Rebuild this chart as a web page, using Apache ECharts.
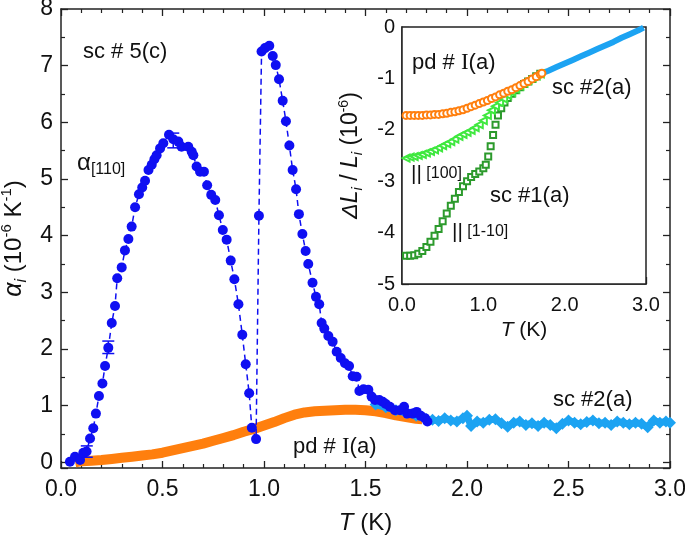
<!DOCTYPE html>
<html><head><meta charset="utf-8">
<script src="https://cdn.jsdelivr.net/npm/echarts@6/dist/echarts.min.js"></script>
<style>html,body{margin:0;padding:0;background:#fff}#c{width:685px;height:536px}</style>
</head><body><div id="c"></div>
<script>
// ---- main panel data: alpha_[110] (sc #5(c)) ----
const blueT = [0.044,0.069,0.094,0.11,0.126,0.143,0.159,0.172,0.187,0.204,0.217,0.233,0.25,0.266,0.277,0.299,0.315,0.332,0.348,0.365,0.384,0.40,0.414,0.431,0.447,0.46,0.471,0.488,0.504,0.532,0.553,0.578,0.594,0.627,0.644,0.652,0.668,0.685,0.704,0.72,0.74,0.76,0.778,0.797,0.816,0.836,0.854,0.874,0.893,0.91,0.927,0.94,0.961,0.975,0.988,1.005,1.026,1.043,1.058,1.074,1.092,1.108,1.125,1.141,1.158,1.172,1.189,1.205,1.218,1.239,1.256,1.272,1.284,1.297,1.317,1.338,1.358,1.378,1.399,1.419,1.437,1.456,1.47,1.49,1.514,1.53,1.547,1.568,1.585,1.60,1.62,1.645,1.67,1.69,1.706,1.732,1.752,1.772,1.793,1.805];
const blueA = [0.01,0.10,0.04,0.17,0.19,0.42,0.60,0.86,1.17,1.39,1.70,2.02,2.46,2.76,3.25,3.44,3.74,3.94,4.16,4.50,4.73,4.85,4.97,5.16,5.25,5.35,5.42,5.54,5.63,5.78,5.70,5.66,5.57,5.57,5.48,5.42,5.22,5.13,5.13,4.89,4.72,4.63,4.36,4.10,3.93,3.56,3.23,2.79,2.25,1.73,1.22,0.61,0.41,4.35,7.25,7.31,7.35,7.17,7.01,6.76,6.38,6.02,5.59,5.16,4.82,4.38,4.03,3.73,3.50,3.17,2.92,2.79,2.46,2.36,2.23,2.13,1.95,1.84,1.75,1.70,1.52,1.51,1.26,1.29,1.28,1.16,1.10,1.10,1.07,1.03,0.98,0.92,0.92,0.98,0.86,0.86,0.89,0.82,0.78,0.72];
const errT = [0.127,0.233,0.553];
const errC = [0.19,2.03,5.68];
const errE = [0.10,0.11,0.13];
// pd # I(a)
const orangeT = [0.07,0.1,0.15,0.2,0.25,0.3,0.35,0.4,0.45,0.5,0.55,0.6,0.65,0.7,0.75,0.8,0.85,0.9,0.95,1.0,1.05,1.1,1.15,1.2,1.25,1.3,1.35,1.4,1.45,1.5,1.55,1.6,1.65,1.7,1.75,1.78];
const orangeA = [0.0,0.02,0.03,0.04,0.06,0.08,0.10,0.12,0.14,0.17,0.21,0.25,0.29,0.33,0.38,0.43,0.48,0.54,0.59,0.65,0.71,0.78,0.84,0.88,0.90,0.91,0.92,0.93,0.93,0.92,0.90,0.87,0.83,0.80,0.77,0.76];
// sc #2(a)
const cyanT = [1.55,1.6,1.65,1.7,1.75,1.8,1.83,1.86,1.89,1.92,1.95,1.98,2.0,2.02,2.05,2.08,2.11,2.14,2.17,2.2,2.23,2.26,2.29,2.32,2.35,2.38,2.41,2.44,2.47,2.5,2.53,2.56,2.59,2.62,2.65,2.68,2.71,2.74,2.77,2.8,2.83,2.86,2.89,2.92,2.95,2.98,3.0];
const cyanA = [1.02,0.97,0.92,0.87,0.82,0.76,0.75,0.73,0.78,0.74,0.72,0.78,0.82,0.64,0.72,0.70,0.75,0.76,0.69,0.63,0.70,0.72,0.66,0.69,0.64,0.70,0.66,0.60,0.68,0.74,0.70,0.67,0.71,0.74,0.69,0.70,0.66,0.72,0.70,0.67,0.70,0.68,0.62,0.74,0.70,0.72,0.70];
// ---- inset data: dL/L ----
const insOrangeT = [0.05,0.1,0.15,0.2,0.25,0.3,0.35,0.4,0.45,0.5,0.55,0.6,0.65,0.7,0.75,0.8,0.85,0.9,0.95,1.0,1.05,1.1,1.15,1.2,1.25,1.3,1.35,1.4,1.45,1.5,1.55,1.6,1.65,1.7,1.72];
const insOrangeV = [-1.72,-1.72,-1.72,-1.72,-1.72,-1.71,-1.71,-1.70,-1.70,-1.69,-1.68,-1.66,-1.65,-1.63,-1.61,-1.58,-1.55,-1.52,-1.49,-1.46,-1.43,-1.39,-1.36,-1.32,-1.29,-1.25,-1.22,-1.18,-1.14,-1.10,-1.06,-1.01,-0.97,-0.92,-0.90];
const ins100T = [0.05,0.1,0.15,0.2,0.25,0.3,0.35,0.4,0.45,0.5,0.55,0.6,0.65,0.7,0.75,0.8,0.85,0.9,0.95,1.0,1.05,1.1,1.15,1.2,1.25,1.3,1.35,1.4,1.45,1.5,1.55,1.6,1.65,1.7];
const ins100V = [-2.55,-2.53,-2.52,-2.50,-2.48,-2.45,-2.42,-2.39,-2.35,-2.31,-2.27,-2.23,-2.18,-2.13,-2.09,-2.05,-2.01,-1.96,-1.90,-1.82,-1.72,-1.62,-1.54,-1.47,-1.40,-1.33,-1.27,-1.21,-1.15,-1.09,-1.04,-0.99,-0.95,-0.91];
const ins110T = [0.05,0.1,0.15,0.2,0.25,0.3,0.35,0.4,0.45,0.5,0.55,0.6,0.65,0.7,0.75,0.8,0.85,0.9,0.95,1.0,1.03,1.06,1.09,1.12,1.15,1.18,1.22,1.26,1.3,1.35,1.4,1.45,1.5,1.55,1.6,1.65,1.7];
const ins110V = [-4.45,-4.45,-4.44,-4.41,-4.36,-4.28,-4.18,-4.06,-3.93,-3.78,-3.63,-3.48,-3.34,-3.21,-3.10,-3.00,-2.92,-2.86,-2.81,-2.75,-2.68,-2.52,-2.32,-2.10,-1.90,-1.72,-1.58,-1.47,-1.38,-1.30,-1.23,-1.17,-1.11,-1.06,-1.01,-0.96,-0.91];
const insCyanT = [1.72,1.8,1.9,2.0,2.1,2.2,2.3,2.4,2.5,2.6,2.7,2.8,2.9,2.97];
const insCyanV = [-0.90,-0.85,-0.78,-0.71,-0.64,-0.57,-0.50,-0.43,-0.36,-0.29,-0.21,-0.14,-0.07,-0.01];
// tick labels
const mainXTicks = ['0.0','0.5','1.0','1.5','2.0','2.5','3.0'];
const insetXTicks = ['0.0','1.0','2.0','3.0'];

const zip = (a,b) => a.map((v,i)=>[v,b[i]]);
const FONT = 'Liberation Sans, Arial, sans-serif';
const AX = '#222';
const BLUE = '#0f0ff2', ORANGE = '#ff7f0e', CYAN = '#1ca3f2', LGREEN = '#3fe83f', DGREEN = '#2c9a2c';

function mainAxisCommon(extra){
  return Object.assign({
    axisLine:{show:true, onZero:false, lineStyle:{color:AX, width:1.5}},
    axisTick:{show:true, inside:true, length:7, lineStyle:{color:AX, width:1.3}},
    minorTick:{show:true, length:4, lineStyle:{color:AX, width:1.2}},
    splitLine:{show:false}, minorSplitLine:{show:false}
  }, extra);
}

const chart = echarts.init(document.getElementById('c'), null, {renderer:'canvas'});
const option = {
  animation:false,
  backgroundColor:'#fff',
  grid:[
    {left:61, right:15, top:9, bottom:68, containLabel:false, outerBoundsMode:'none'},
    {left:402, top:27, width:244, height:257, show:true, backgroundColor:'#fff', borderColor:AX, borderWidth:1.5, containLabel:false, outerBoundsMode:'none', z:5}
  ],
  xAxis:[
    mainAxisCommon({gridIndex:0, type:'value', min:0, max:3, interval:0.5, position:'bottom',
      minorTick:{show:true, splitNumber:5, length:4, lineStyle:{color:AX, width:1.2}},
      axisLabel:{show:true, margin:10, color:'#111', fontSize:23, fontFamily:FONT, formatter:v=>mainXTicks[Math.round(v/0.5)]},
      name:'{i|T} (K)', nameLocation:'middle', nameGap:43,
      nameTextStyle:{color:'#111', fontSize:24, fontFamily:FONT, rich:{i:{fontStyle:'italic', fontSize:24, fontFamily:FONT, color:'#111'}}}}),
    mainAxisCommon({gridIndex:0, type:'value', min:0, max:3, interval:0.5, position:'top',
      minorTick:{show:true, splitNumber:5, length:4, lineStyle:{color:AX, width:1.2}},
      axisLabel:{show:false}}),
    {gridIndex:1, type:'value', min:0, max:3, interval:1, position:'bottom',
      axisLine:{show:true, onZero:false, lineStyle:{color:AX, width:1.5}},
      axisTick:{show:true, inside:true, length:7, lineStyle:{color:AX, width:1.3}},
      minorTick:{show:true, splitNumber:2, length:4, lineStyle:{color:AX, width:1.2}},
      splitLine:{show:false},
      axisLabel:{show:true, margin:11, color:'#111', fontSize:20, fontFamily:FONT, formatter:v=>insetXTicks[Math.round(v)]},
      name:'{i|T} (K)', nameLocation:'middle', nameGap:36,
      nameTextStyle:{color:'#111', fontSize:21, fontFamily:FONT, rich:{i:{fontStyle:'italic', fontSize:21, fontFamily:FONT, color:'#111'}}}}
  ],
  yAxis:[
    mainAxisCommon({gridIndex:0, type:'value', min:-0.1, max:8, splitNumber:8, position:'left',
      minorTick:{show:true, splitNumber:2, length:4, lineStyle:{color:AX, width:1.2}},
      axisLabel:{show:true, margin:8, color:'#111', fontSize:23, fontFamily:FONT, showMinLabel:true,
        formatter:v=> (Math.abs(v-Math.round(v))<1e-6 ? String(Math.round(v)) : '')},
      name:'{a|α}{s|i}{n| (10}{p|-6}{n| K}{p|-1}{n|)}', nameLocation:'middle', nameGap:30, nameRotate:90,
      nameTextStyle:{color:'#111', fontFamily:FONT, rich:{
        a:{fontSize:25, fontStyle:'italic', fontFamily:FONT, color:'#111', lineHeight:30},
        s:{fontSize:16, fontStyle:'italic', fontFamily:FONT, color:'#111', verticalAlign:'bottom', lineHeight:16},
        n:{fontSize:24, fontFamily:FONT, color:'#111', lineHeight:30},
        p:{fontSize:15, fontFamily:FONT, color:'#111', verticalAlign:'top', lineHeight:14}}}}),
    mainAxisCommon({gridIndex:0, type:'value', min:-0.1, max:8, splitNumber:8, position:'right',
      minorTick:{show:true, splitNumber:2, length:4, lineStyle:{color:AX, width:1.2}},
      axisLabel:{show:false}}),
    {gridIndex:1, type:'value', min:-5, max:0, interval:1, position:'left',
      axisLine:{show:true, onZero:false, lineStyle:{color:AX, width:1.5}},
      axisTick:{show:true, inside:true, length:7, lineStyle:{color:AX, width:1.3}},
      minorTick:{show:true, splitNumber:2, length:4, lineStyle:{color:AX, width:1.2}},
      splitLine:{show:false},
      axisLabel:{show:true, margin:7, color:'#111', fontSize:20, fontFamily:FONT, formatter:v=>String(v)},
      name:'{d|ΔL}{s|i}{n| / }{d|L}{s|i}{n| (10}{p|-6}{n|)}', nameLocation:'middle', nameGap:37, nameRotate:90,
      nameTextStyle:{color:'#111', fontFamily:FONT, rich:{
        d:{fontSize:23, fontStyle:'italic', fontFamily:FONT, color:'#111', lineHeight:28},
        s:{fontSize:15, fontStyle:'italic', fontFamily:FONT, color:'#111', verticalAlign:'bottom', lineHeight:15},
        n:{fontSize:23, fontFamily:FONT, color:'#111', lineHeight:28},
        p:{fontSize:14, fontFamily:FONT, color:'#111', verticalAlign:'top', lineHeight:13}}}}
  ],
  series:[
    {type:'line', xAxisIndex:0, yAxisIndex:0, data:zip(orangeT, orangeA), showSymbol:false, symbol:'none',
      lineStyle:{color:ORANGE, width:10, cap:'butt'}, z:2},
    {type:'line', xAxisIndex:0, yAxisIndex:0, data:zip(cyanT, cyanA), symbol:'diamond', symbolSize:12,
      itemStyle:{color:CYAN}, lineStyle:{color:CYAN, width:7}, z:3},
    {type:'line', xAxisIndex:0, yAxisIndex:0, data:zip(blueT, blueA), symbol:'circle', symbolSize:10,
      itemStyle:{color:BLUE}, lineStyle:{color:BLUE, width:1.5, type:[6,4]}, z:4},
    {type:'custom', xAxisIndex:0, yAxisIndex:0, z:4,
      data: errT.map((t,i)=>[t, errC[i], errE[i]]),
      renderItem:(params, api)=>{
        const x=api.value(0), y=api.value(1), e=api.value(2);
        const t=api.coord([x,y+e]), b=api.coord([x,y-e]); const w=6;
        const st={stroke:BLUE, lineWidth:1.5};
        return {type:'group', children:[
          {type:'line', shape:{x1:t[0],y1:t[1],x2:b[0],y2:b[1]}, style:st},
          {type:'line', shape:{x1:t[0]-w,y1:t[1],x2:t[0]+w,y2:t[1]}, style:st},
          {type:'line', shape:{x1:b[0]-w,y1:b[1],x2:b[0]+w,y2:b[1]}, style:st}]};
      }},
    // inset
    {type:'line', xAxisIndex:2, yAxisIndex:2, data:zip(insCyanT, insCyanV), symbol:'none',
      lineStyle:{color:CYAN, width:6}, z:6},
    {type:'line', xAxisIndex:2, yAxisIndex:2, data:zip(ins110T, ins110V), symbol:'emptyRect', symbolSize:6,
      itemStyle:{color:DGREEN, borderWidth:1}, lineStyle:{width:0, opacity:0}, z:6},
    {type:'line', xAxisIndex:2, yAxisIndex:2, data:zip(ins100T, ins100V), symbol:'emptyTriangle', symbolSize:7, symbolRotate:90,
      itemStyle:{color:LGREEN, borderWidth:1}, lineStyle:{width:0, opacity:0}, z:6},
    {type:'line', xAxisIndex:2, yAxisIndex:2, data:zip(insOrangeT, insOrangeV), symbol:'emptyCircle', symbolSize:7,
      itemStyle:{color:ORANGE, borderWidth:1}, lineStyle:{width:0, opacity:0}, z:7}
  ],
  graphic:[
    {type:'text', z:100, x:83, y:52, style:{text:'sc # 5(c)', font:'22px '+FONT, fill:'#111', verticalAlign:'middle'}},
    {type:'text', z:100, x:77, y:163, style:{text:'{a|α}{s|[110]}', fill:'#111', verticalAlign:'middle',
      rich:{a:{fontSize:24, fontFamily:FONT, fill:'#111', lineHeight:30}, s:{fontSize:16, fontFamily:FONT, fill:'#111', verticalAlign:'bottom', lineHeight:16}}}},
    {type:'text', z:100, x:293, y:447, style:{text:'{s|pd # }{r|I}{s|(a)}', verticalAlign:'middle',
      rich:{s:{fontSize:22, fontFamily:FONT, fill:'#111'}, r:{fontSize:23, fontFamily:'Liberation Serif, Times New Roman, serif', fill:'#111'}}}},
    {type:'text', z:100, x:553, y:400, style:{text:'sc #2(a)', font:'22px '+FONT, fill:'#111', verticalAlign:'middle'}},
    {type:'text', z:100, x:412, y:63, style:{text:'{s|pd # }{r|I}{s|(a)}', verticalAlign:'middle',
      rich:{s:{fontSize:22, fontFamily:FONT, fill:'#111'}, r:{fontSize:23, fontFamily:'Liberation Serif, Times New Roman, serif', fill:'#111'}}}},
    {type:'text', z:100, x:552, y:88, style:{text:'sc #2(a)', font:'22px '+FONT, fill:'#111', verticalAlign:'middle'}},
    {type:'text', z:100, x:411, y:174, style:{text:'{b|||}{s| [100]}', verticalAlign:'middle',
      rich:{b:{fontSize:21, fontFamily:FONT, fill:'#111'}, s:{fontSize:16, fontFamily:FONT, fill:'#111'}}}},
    {type:'text', z:100, x:490, y:196, style:{text:'sc #1(a)', font:'22px '+FONT, fill:'#111', verticalAlign:'middle'}},
    {type:'text', z:100, x:452, y:232, style:{text:'{b|||}{s| [1-10]}', verticalAlign:'middle',
      rich:{b:{fontSize:21, fontFamily:FONT, fill:'#111'}, s:{fontSize:16, fontFamily:FONT, fill:'#111'}}}}
  ]
};
chart.setOption(option);
</script>
</body></html>
